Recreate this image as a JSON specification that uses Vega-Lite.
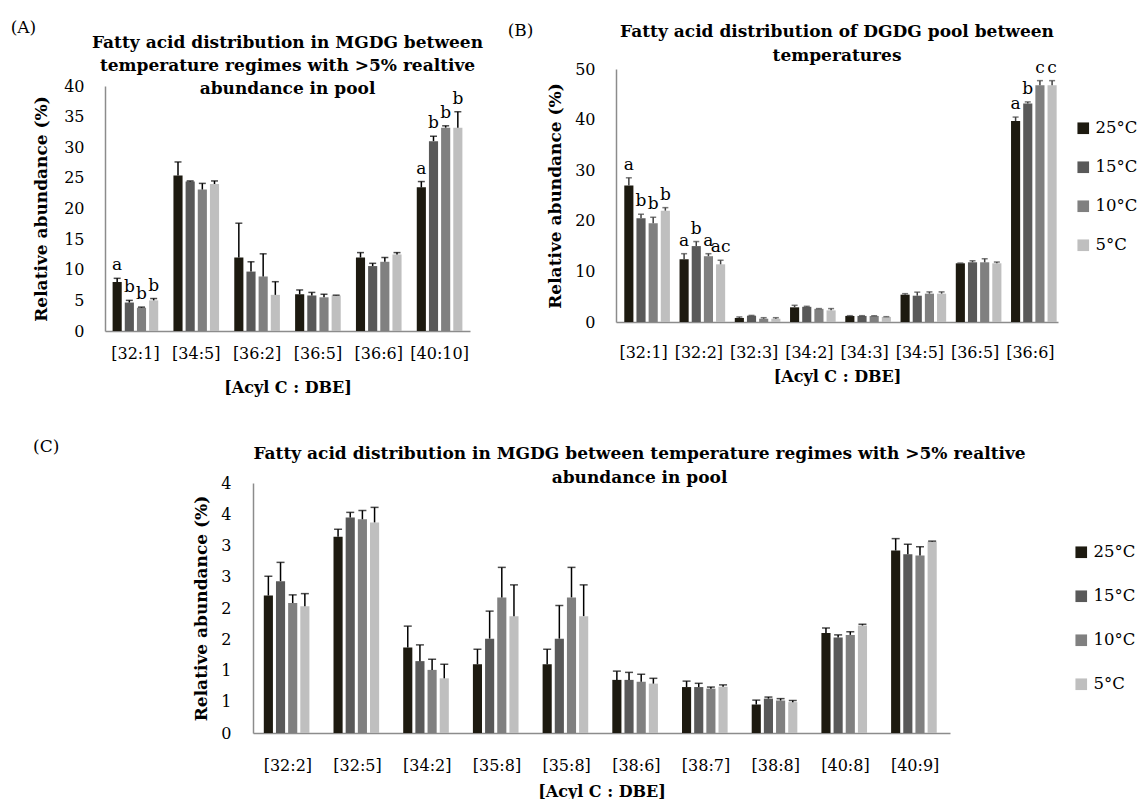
{
  "$schema": "https://vega.github.io/schema/vega-lite/v6.json",
  "background": "white",
  "padding": {"left": 10, "top": 19, "right": 0, "bottom": 0},
  "config": {
    "font": "DejaVu Serif",
    "view": {"stroke": null},
    "axis": {"ticks": false, "grid": false, "labelOverlap": false, "domainColor": "#8c8c8c", "domainWidth": 1.5, "labelColor": "#000", "titleColor": "#000", "labelFont": "DejaVu Serif", "titleFont": "DejaVu Serif", "labelFontSize": 16, "titleFontSize": 17, "titleFontWeight": "bold"},
    "title": {"font": "DejaVu Serif", "color": "#000"},
    "legend": {"title": null, "symbolType": "square", "symbolSize": 135, "symbolStrokeWidth": 0, "labelFont": "DejaVu Serif", "labelFontSize": 16.5, "labelColor": "#000", "labelOffset": 4, "padding": 0}
  },
  "datasets": {
    "A": [
      {"cat": "[32:1]", "temp": "25°C", "v": 8.0, "hi": 8.6, "sig": "a"},
      {"cat": "[32:1]", "temp": "15°C", "v": 4.65, "hi": 5.0, "sig": "b"},
      {"cat": "[32:1]", "temp": "10°C", "v": 3.8, "hi": 3.9, "sig": "b"},
      {"cat": "[32:1]", "temp": "5°C", "v": 5.0, "hi": 5.3, "sig": "b"},
      {"cat": "[34:5]", "temp": "25°C", "v": 25.4, "hi": 27.6, "sig": ""},
      {"cat": "[34:5]", "temp": "15°C", "v": 24.4, "hi": 24.5, "sig": ""},
      {"cat": "[34:5]", "temp": "10°C", "v": 23.1, "hi": 24.1, "sig": ""},
      {"cat": "[34:5]", "temp": "5°C", "v": 24.0, "hi": 24.5, "sig": ""},
      {"cat": "[36:2]", "temp": "25°C", "v": 12.0, "hi": 17.6, "sig": ""},
      {"cat": "[36:2]", "temp": "15°C", "v": 9.7, "hi": 11.3, "sig": ""},
      {"cat": "[36:2]", "temp": "10°C", "v": 8.9, "hi": 12.6, "sig": ""},
      {"cat": "[36:2]", "temp": "5°C", "v": 5.9, "hi": 8.05, "sig": ""},
      {"cat": "[36:5]", "temp": "25°C", "v": 6.0, "hi": 6.7, "sig": ""},
      {"cat": "[36:5]", "temp": "15°C", "v": 5.8, "hi": 6.3, "sig": ""},
      {"cat": "[36:5]", "temp": "10°C", "v": 5.5, "hi": 6.0, "sig": ""},
      {"cat": "[36:5]", "temp": "5°C", "v": 5.8, "hi": 5.85, "sig": ""},
      {"cat": "[36:6]", "temp": "25°C", "v": 12.0, "hi": 12.8, "sig": ""},
      {"cat": "[36:6]", "temp": "15°C", "v": 10.6, "hi": 11.05, "sig": ""},
      {"cat": "[36:6]", "temp": "10°C", "v": 11.3, "hi": 12.0, "sig": ""},
      {"cat": "[36:6]", "temp": "5°C", "v": 12.5, "hi": 12.8, "sig": ""},
      {"cat": "[40:10]", "temp": "25°C", "v": 23.45, "hi": 24.4, "sig": "a"},
      {"cat": "[40:10]", "temp": "15°C", "v": 31.0, "hi": 31.8, "sig": "b"},
      {"cat": "[40:10]", "temp": "10°C", "v": 33.2, "hi": 33.5, "sig": "b"},
      {"cat": "[40:10]", "temp": "5°C", "v": 33.2, "hi": 35.8, "sig": "b"}
    ],
    "B": [
      {"cat": "[32:1]", "temp": "25°C", "v": 27.0, "hi": 28.5, "sig": "a"},
      {"cat": "[32:1]", "temp": "15°C", "v": 20.5, "hi": 21.3, "sig": "b"},
      {"cat": "[32:1]", "temp": "10°C", "v": 19.5, "hi": 20.7, "sig": "b"},
      {"cat": "[32:1]", "temp": "5°C", "v": 22.0, "hi": 22.6, "sig": "b"},
      {"cat": "[32:2]", "temp": "25°C", "v": 12.4, "hi": 13.5, "sig": "a"},
      {"cat": "[32:2]", "temp": "15°C", "v": 15.0, "hi": 15.9, "sig": "b"},
      {"cat": "[32:2]", "temp": "10°C", "v": 13.0, "hi": 13.5, "sig": "a"},
      {"cat": "[32:2]", "temp": "5°C", "v": 11.4, "hi": 12.2, "sig": "ac"},
      {"cat": "[32:3]", "temp": "25°C", "v": 0.8, "hi": 1.0, "sig": ""},
      {"cat": "[32:3]", "temp": "15°C", "v": 1.25, "hi": 1.3, "sig": ""},
      {"cat": "[32:3]", "temp": "10°C", "v": 0.65, "hi": 0.85, "sig": ""},
      {"cat": "[32:3]", "temp": "5°C", "v": 0.65, "hi": 0.85, "sig": ""},
      {"cat": "[34:2]", "temp": "25°C", "v": 2.9, "hi": 3.3, "sig": ""},
      {"cat": "[34:2]", "temp": "15°C", "v": 3.0, "hi": 3.1, "sig": ""},
      {"cat": "[34:2]", "temp": "10°C", "v": 2.6, "hi": 2.65, "sig": ""},
      {"cat": "[34:2]", "temp": "5°C", "v": 2.3, "hi": 2.65, "sig": ""},
      {"cat": "[34:3]", "temp": "25°C", "v": 1.2, "hi": 1.25, "sig": ""},
      {"cat": "[34:3]", "temp": "15°C", "v": 1.2, "hi": 1.25, "sig": ""},
      {"cat": "[34:3]", "temp": "10°C", "v": 1.2, "hi": 1.25, "sig": ""},
      {"cat": "[34:3]", "temp": "5°C", "v": 1.0, "hi": 1.05, "sig": ""},
      {"cat": "[34:5]", "temp": "25°C", "v": 5.4, "hi": 5.6, "sig": ""},
      {"cat": "[34:5]", "temp": "15°C", "v": 5.2, "hi": 5.9, "sig": ""},
      {"cat": "[34:5]", "temp": "10°C", "v": 5.6, "hi": 5.95, "sig": ""},
      {"cat": "[34:5]", "temp": "5°C", "v": 5.6, "hi": 5.95, "sig": ""},
      {"cat": "[36:5]", "temp": "25°C", "v": 11.6, "hi": 11.65, "sig": ""},
      {"cat": "[36:5]", "temp": "15°C", "v": 11.8, "hi": 12.1, "sig": ""},
      {"cat": "[36:5]", "temp": "10°C", "v": 11.8, "hi": 12.5, "sig": ""},
      {"cat": "[36:5]", "temp": "5°C", "v": 11.6, "hi": 11.85, "sig": ""},
      {"cat": "[36:6]", "temp": "25°C", "v": 39.7, "hi": 40.5, "sig": "a"},
      {"cat": "[36:6]", "temp": "15°C", "v": 43.2, "hi": 43.5, "sig": "b"},
      {"cat": "[36:6]", "temp": "10°C", "v": 46.8, "hi": 47.7, "sig": "c"},
      {"cat": "[36:6]", "temp": "5°C", "v": 46.8, "hi": 47.7, "sig": "c"}
    ],
    "C": [
      {"cat": "[32:2]", "temp": "25°C", "v": 2.2, "hi": 2.51},
      {"cat": "[32:2]", "temp": "15°C", "v": 2.43, "hi": 2.73},
      {"cat": "[32:2]", "temp": "10°C", "v": 2.08, "hi": 2.21},
      {"cat": "[32:2]", "temp": "5°C", "v": 2.03, "hi": 2.23},
      {"cat": "[32:5]", "temp": "25°C", "v": 3.14, "hi": 3.26},
      {"cat": "[32:5]", "temp": "15°C", "v": 3.45, "hi": 3.53},
      {"cat": "[32:5]", "temp": "10°C", "v": 3.42, "hi": 3.56},
      {"cat": "[32:5]", "temp": "5°C", "v": 3.37, "hi": 3.61},
      {"cat": "[34:2]", "temp": "25°C", "v": 1.37, "hi": 1.71},
      {"cat": "[34:2]", "temp": "15°C", "v": 1.15, "hi": 1.41},
      {"cat": "[34:2]", "temp": "10°C", "v": 1.01, "hi": 1.18},
      {"cat": "[34:2]", "temp": "5°C", "v": 0.875, "hi": 1.1},
      {"cat": "[35:8]", "temp": "25°C", "v": 1.1, "hi": 1.34},
      {"cat": "[35:8]", "temp": "15°C", "v": 1.51, "hi": 1.95},
      {"cat": "[35:8]", "temp": "10°C", "v": 2.17, "hi": 2.65},
      {"cat": "[35:8]", "temp": "5°C", "v": 1.87, "hi": 2.37},
      {"cat": "[35:8]\u200b", "temp": "25°C", "v": 1.1, "hi": 1.34},
      {"cat": "[35:8]\u200b", "temp": "15°C", "v": 1.51, "hi": 2.04},
      {"cat": "[35:8]\u200b", "temp": "10°C", "v": 2.17, "hi": 2.65},
      {"cat": "[35:8]\u200b", "temp": "5°C", "v": 1.87, "hi": 2.37},
      {"cat": "[38:6]", "temp": "25°C", "v": 0.85, "hi": 0.99},
      {"cat": "[38:6]", "temp": "15°C", "v": 0.85, "hi": 0.97},
      {"cat": "[38:6]", "temp": "10°C", "v": 0.82, "hi": 0.94},
      {"cat": "[38:6]", "temp": "5°C", "v": 0.79, "hi": 0.875},
      {"cat": "[38:7]", "temp": "25°C", "v": 0.735, "hi": 0.83},
      {"cat": "[38:7]", "temp": "15°C", "v": 0.735, "hi": 0.795},
      {"cat": "[38:7]", "temp": "10°C", "v": 0.71, "hi": 0.735},
      {"cat": "[38:7]", "temp": "5°C", "v": 0.74, "hi": 0.77},
      {"cat": "[38:8]", "temp": "25°C", "v": 0.456, "hi": 0.526},
      {"cat": "[38:8]", "temp": "15°C", "v": 0.55, "hi": 0.575},
      {"cat": "[38:8]", "temp": "10°C", "v": 0.52, "hi": 0.55},
      {"cat": "[38:8]", "temp": "5°C", "v": 0.494, "hi": 0.52},
      {"cat": "[40:8]", "temp": "25°C", "v": 1.6, "hi": 1.68},
      {"cat": "[40:8]", "temp": "15°C", "v": 1.53, "hi": 1.57},
      {"cat": "[40:8]", "temp": "10°C", "v": 1.57, "hi": 1.62},
      {"cat": "[40:8]", "temp": "5°C", "v": 1.72, "hi": 1.74},
      {"cat": "[40:9]", "temp": "25°C", "v": 2.92, "hi": 3.11},
      {"cat": "[40:9]", "temp": "15°C", "v": 2.86, "hi": 3.02},
      {"cat": "[40:9]", "temp": "10°C", "v": 2.84, "hi": 2.98},
      {"cat": "[40:9]", "temp": "5°C", "v": 3.06, "hi": 3.07}
    ]
  },
  "spacing": 43,
  "resolve": {"scale": {"color": "independent"}, "legend": {"color": "independent"}},
  "vconcat": [
    {
      "spacing": 23,
      "resolve": {"scale": {"color": "independent"}, "legend": {"color": "independent"}},
      "hconcat": [
        {
          "title": {"text": "(A)", "anchor": "start", "frame": "bounds", "fontSize": 17, "fontWeight": "normal", "dx": -22, "offset": -3},
          "vconcat": [
            {
              "width": 365,
              "height": 262,
              "title": {"text": ["Fatty acid distribution in MGDG between", "temperature regimes with >5% realtive", "abundance in pool"], "fontSize": 17, "fontWeight": "bold", "lineHeight": 23, "anchor": "middle", "frame": "group", "offset": -29},
              "data": {"name": "A"},
              "encoding": {
                "x": {"field": "cat", "type": "nominal", "sort": null, "scale": {"paddingInner": 0.25, "paddingOuter": 0.125}, "axis": {"labelAngle": 0, "labelPadding": 14, "title": "[Acyl C : DBE]", "titleFontSize": 16, "titlePadding": 18}},
                "xOffset": {"field": "temp", "type": "nominal", "sort": ["25°C", "15°C", "10°C", "5°C"], "scale": {"paddingInner": 0.25}}
              },
              "layer": [
                {
                  "mark": {"type": "bar"},
                  "encoding": {
                    "y": {"field": "v", "type": "quantitative", "scale": {"domain": [0, 40], "nice": false, "range": [262, 17]}, "axis": {"values": [0, 5, 10, 15, 20, 25, 30, 35, 40], "labelOverlap": false, "title": "Relative abundance (%)", "labelPadding": 21, "titlePadding": 13}},
                    "color": {"field": "temp", "type": "nominal", "sort": ["25°C", "15°C", "10°C", "5°C"], "scale": {"domain": ["25°C", "15°C", "10°C", "5°C"], "range": ["#1d1a10", "#595959", "#808080", "#bfbfbf"]}, "legend": null}
                  }
                },
                {"mark": {"type": "rule", "color": "#000", "strokeWidth": 1.5}, "encoding": {"y": {"field": "v", "type": "quantitative", "axis": {"values": [0, 5, 10, 15, 20, 25, 30, 35, 40], "labelOverlap": false, "title": "Relative abundance (%)", "labelPadding": 21, "titlePadding": 13}}, "y2": {"field": "hi"}}},
                {"mark": {"type": "tick", "color": "#000", "size": 7, "thickness": 1.5}, "encoding": {"y": {"field": "hi", "type": "quantitative", "axis": {"values": [0, 5, 10, 15, 20, 25, 30, 35, 40], "labelOverlap": false, "title": "Relative abundance (%)", "labelPadding": 21, "titlePadding": 13}}}},
                {"mark": {"type": "text", "baseline": "alphabetic", "dy": -8, "fontSize": 17, "color": "#000"}, "encoding": {"y": {"field": "hi", "type": "quantitative", "axis": {"values": [0, 5, 10, 15, 20, 25, 30, 35, 40], "labelOverlap": false, "title": "Relative abundance (%)", "labelPadding": 21, "titlePadding": 13}}, "text": {"field": "sig"}}}
              ]
            }
          ]
        },
        {
          "title": {"text": "(B)", "anchor": "start", "frame": "bounds", "fontSize": 17, "fontWeight": "normal", "dx": -39, "offset": -17},
          "vconcat": [
            {
              "width": 442,
              "height": 253,
              "title": {"text": ["Fatty acid distribution of DGDG pool between", "temperatures"], "fontSize": 17, "fontWeight": "bold", "lineHeight": 24, "anchor": "middle", "frame": "group", "offset": -17, "dy": -11},
              "data": {"name": "B"},
              "encoding": {
                "x": {"field": "cat", "type": "nominal", "sort": null, "scale": {"paddingInner": 0.3, "paddingOuter": 0.15}, "axis": {"labelAngle": 0, "labelPadding": 22, "title": "[Acyl C : DBE]", "titleFontSize": 16, "titlePadding": 8}},
                "xOffset": {"field": "temp", "type": "nominal", "sort": ["25°C", "15°C", "10°C", "5°C"], "scale": {"paddingInner": 0.2}}
              },
              "layer": [
                {
                  "mark": {"type": "bar"},
                  "encoding": {
                    "y": {"field": "v", "type": "quantitative", "scale": {"domain": [0, 50], "nice": false}, "axis": {"values": [0, 10, 20, 30, 40, 50], "labelOverlap": false, "title": "Relative abundance (%)", "labelPadding": 21, "titlePadding": 10}},
                    "color": {"field": "temp", "type": "nominal", "sort": ["25°C", "15°C", "10°C", "5°C"], "scale": {"domain": ["25°C", "15°C", "10°C", "5°C"], "range": ["#1d1a10", "#595959", "#808080", "#bfbfbf"]}, "legend": {"orient": "none", "legendX": 459, "legendY": 51, "rowPadding": 22}}
                  }
                },
                {"mark": {"type": "rule", "color": "#404040", "strokeWidth": 1.5}, "encoding": {"y": {"field": "v", "type": "quantitative", "axis": {"values": [0, 10, 20, 30, 40, 50], "labelOverlap": false, "title": "Relative abundance (%)", "labelPadding": 21, "titlePadding": 10}}, "y2": {"field": "hi"}}},
                {"mark": {"type": "tick", "color": "#404040", "size": 6, "thickness": 1.5}, "encoding": {"y": {"field": "hi", "type": "quantitative", "axis": {"values": [0, 10, 20, 30, 40, 50], "labelOverlap": false, "title": "Relative abundance (%)", "labelPadding": 21, "titlePadding": 10}}}},
                {"mark": {"type": "text", "baseline": "alphabetic", "dy": -8, "fontSize": 17, "color": "#000"}, "encoding": {"y": {"field": "hi", "type": "quantitative", "axis": {"values": [0, 10, 20, 30, 40, 50], "labelOverlap": false, "title": "Relative abundance (%)", "labelPadding": 21, "titlePadding": 10}}, "text": {"field": "sig"}}}
              ]
            }
          ]
        }
      ]
    },
    {
      "spacing": 12,
      "resolve": {"scale": {"color": "independent"}, "legend": {"color": "independent"}},
      "hconcat": [
        {
          "width": 75,
          "height": 150,
          "title": {"text": "(C)", "anchor": "start", "frame": "group", "fontSize": 17, "fontWeight": "normal", "dx": -72, "dy": -23},
          "data": {"values": []},
          "mark": {"type": "rect"},
          "encoding": {}
        },
        {
          "width": 697,
          "height": 250,
          "title": {"text": ["Fatty acid distribution in MGDG between temperature regimes with >5% realtive", "abundance in pool"], "fontSize": 17, "fontWeight": "bold", "lineHeight": 24, "anchor": "middle", "frame": "group", "dx": 38, "offset": -12},
          "data": {"name": "C"},
          "encoding": {
            "x": {"field": "cat", "type": "nominal", "sort": null, "scale": {"paddingInner": 0.31, "paddingOuter": 0.155}, "axis": {"labelAngle": 0, "labelPadding": 24, "title": "[Acyl C : DBE]", "titleFontSize": 16, "titlePadding": 10}},
            "xOffset": {"field": "temp", "type": "nominal", "sort": ["25°C", "15°C", "10°C", "5°C"], "scale": {"paddingInner": 0.18}}
          },
          "layer": [
            {
              "mark": {"type": "bar"},
              "encoding": {
                "y": {"field": "v", "type": "quantitative", "scale": {"domain": [0, 4], "nice": false}, "axis": {"values": [0, 0.5, 1, 1.5, 2, 2.5, 3, 3.5, 4], "labelOverlap": false, "labelExpr": "format(round(datum.value), 'd')", "title": "Relative abundance (%)", "labelPadding": 22, "titlePadding": 10}},
                "color": {"field": "temp", "type": "nominal", "sort": ["25°C", "15°C", "10°C", "5°C"], "scale": {"domain": ["25°C", "15°C", "10°C", "5°C"], "range": ["#1d1a10", "#595959", "#808080", "#bfbfbf"]}, "legend": {"orient": "none", "legendX": 820, "legendY": 61, "rowPadding": 27}}
              }
            },
            {"mark": {"type": "rule", "color": "#000", "strokeWidth": 1.5}, "encoding": {"y": {"field": "v", "type": "quantitative", "axis": {"values": [0, 0.5, 1, 1.5, 2, 2.5, 3, 3.5, 4], "labelOverlap": false, "labelExpr": "format(round(datum.value), 'd')", "title": "Relative abundance (%)", "labelPadding": 22, "titlePadding": 10}}, "y2": {"field": "hi"}}},
            {"mark": {"type": "tick", "color": "#000", "size": 8, "thickness": 1.5}, "encoding": {"y": {"field": "hi", "type": "quantitative", "axis": {"values": [0, 0.5, 1, 1.5, 2, 2.5, 3, 3.5, 4], "labelOverlap": false, "labelExpr": "format(round(datum.value), 'd')", "title": "Relative abundance (%)", "labelPadding": 22, "titlePadding": 10}}}}
          ]
        }
      ]
    }
  ]
}
